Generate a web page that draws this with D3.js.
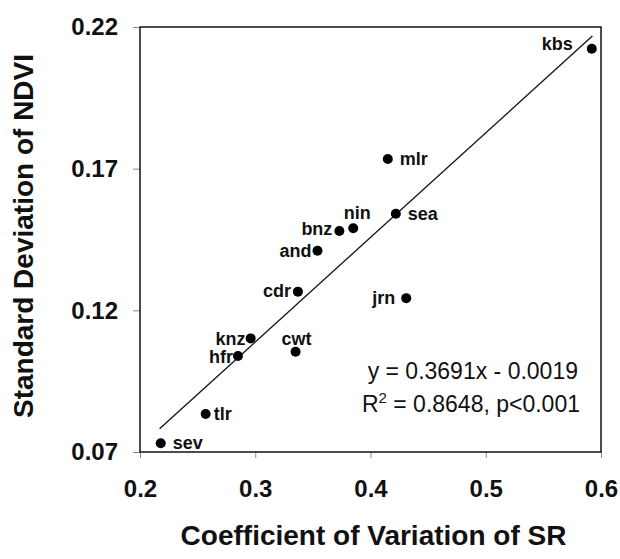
<!DOCTYPE html>
<html>
<head>
<meta charset="utf-8">
<script src="https://cdn.jsdelivr.net/npm/d3@7"></script>
<style>
  body { margin: 0; background: #fff; }
  svg { display: block; font-family: "Liberation Sans", Arial, sans-serif; }
  .tick line { stroke: #8a8a8a; }
  .tick text { font-size: 24px; font-weight: bold; fill: #111; }
</style>
</head>
<body>
<script>
const Width = 620;
const Height = 559;

const margin = { left: 140, right: 19, top: 27, bottom: 107 };
const innerWidth = Width - margin.left - margin.right;
const innerHeight = Height - margin.top - margin.bottom;

// sites and their values
const sites  = ["kbs", "mlr", "sea", "nin", "bnz", "and", "cdr", "jrn", "knz", "cwt", "hfr", "tlr", "sev"];
const cvSR   = [0.592, 0.415, 0.422, 0.385, 0.373, 0.354, 0.337, 0.431, 0.296, 0.335, 0.285, 0.257, 0.218];
const sdNDVI = [0.2123, 0.1734, 0.1541, 0.1490, 0.1480, 0.1410, 0.1266, 0.1243, 0.1101, 0.1054, 0.1039, 0.0834, 0.0731];

const xTicks = [0.2, 0.3, 0.4, 0.5, 0.6];
const yTicks = [0.07, 0.12, 0.17, 0.22];

// regression y = 0.3691x - 0.0019, drawn over this x range
const slope = 0.3691;
const intercept = -0.0019;
const fitRange = [0.217, 0.5925];

// where each site label sits relative to its dot
const labelSide = {
  kbs: ["end", -19, 1], mlr: ["start", 12, 6], sea: ["start", 12, 6],
  nin: ["middle", 4, -9], bnz: ["end", -7, 4], and: ["end", -6, 6],
  cdr: ["end", -7, 5], jrn: ["end", -11, 6], knz: ["end", -5, 7],
  cwt: ["middle", 1, -7], hfr: ["end", -5, 7], tlr: ["start", 8, 6],
  sev: ["start", 12, 6]
};

const points = sites.map((s, i) => ({ site: s, x: cvSR[i], y: sdNDVI[i] }));

const svg = d3.select('body')
  .append('svg')
    .attr('width', Width)
    .attr('height', Height);

const g = svg.append('g')
  .attr('transform', `translate(${margin.left}, ${margin.top})`);

const xScale = d3.scaleLinear()
  .domain([0.2, 0.6])
  .range([0, innerWidth]);

const yScale = d3.scaleLinear()
  .domain([0.07, 0.22])
  .range([innerHeight, 0]);

// axes
const xAxisG = g.append('g')
  .attr('transform', `translate(0, ${innerHeight})`)
  .call(d3.axisBottom(xScale)
    .tickValues(xTicks)
    .tickFormat(d3.format('.1f'))
    .tickSize(6)
    .tickPadding(22));
xAxisG.select('.domain').remove();

const yAxisG = g.append('g')
  .call(d3.axisLeft(yScale)
    .tickValues(yTicks)
    .tickFormat(d3.format('.2f'))
    .tickSize(7)
    .tickPadding(15));
yAxisG.select('.domain').remove();

// frame
g.append('rect')
  .attr('width', innerWidth)
  .attr('height', innerHeight)
  .attr('fill', 'none')
  .attr('stroke', '#111')
  .attr('stroke-width', 1.5);

// regression line
g.append('line')
  .attr('x1', xScale(fitRange[0]))
  .attr('y1', yScale(slope * fitRange[0] + intercept))
  .attr('x2', xScale(fitRange[1]))
  .attr('y2', yScale(slope * fitRange[1] + intercept))
  .attr('stroke', '#111')
  .attr('stroke-width', 1.3);

// points
g.selectAll('circle.pt')
  .data(points)
  .join('circle')
    .attr('class', 'pt')
    .attr('cx', d => xScale(d.x))
    .attr('cy', d => yScale(d.y))
    .attr('r', 5)
    .attr('fill', '#000');

g.selectAll('text.site')
  .data(points)
  .join('text')
    .attr('class', 'site')
    .attr('x', d => xScale(d.x) + labelSide[d.site][1])
    .attr('y', d => yScale(d.y) + labelSide[d.site][2])
    .attr('text-anchor', d => labelSide[d.site][0])
    .style('font-size', '18px')
    .style('font-weight', 'bold')
    .style('fill', '#111')
    .text(d => d.site);

// equation
const eq = g.append('g')
  .style('font-size', '23px')
  .style('fill', '#111')
  .attr('text-anchor', 'end');

eq.append('text')
  .attr('x', 578 - margin.left)
  .attr('y', 379 - margin.top)
  .text('y = 0.3691x - 0.0019');

const r2 = eq.append('text')
  .attr('x', 580 - margin.left)
  .attr('y', 412 - margin.top);
r2.append('tspan').text('R');
r2.append('tspan').attr('dy', -9).style('font-size', '15px').text('2');
r2.append('tspan').attr('dy', 9).text(' = 0.8648, p<0.001');

// axis titles
svg.append('text')
  .attr('x', margin.left + innerWidth / 2 + 3)
  .attr('y', 545)
  .attr('text-anchor', 'middle')
  .style('font-size', '28px')
  .style('font-weight', 'bold')
  .style('fill', '#111')
  .text('Coefficient of Variation of SR');

svg.append('text')
  .attr('transform', 'translate(33, 236) rotate(-90)')
  .attr('text-anchor', 'middle')
  .style('font-size', '28px')
  .style('font-weight', 'bold')
  .style('fill', '#111')
  .text('Standard Deviation of NDVI');
</script>
</body>
</html>
